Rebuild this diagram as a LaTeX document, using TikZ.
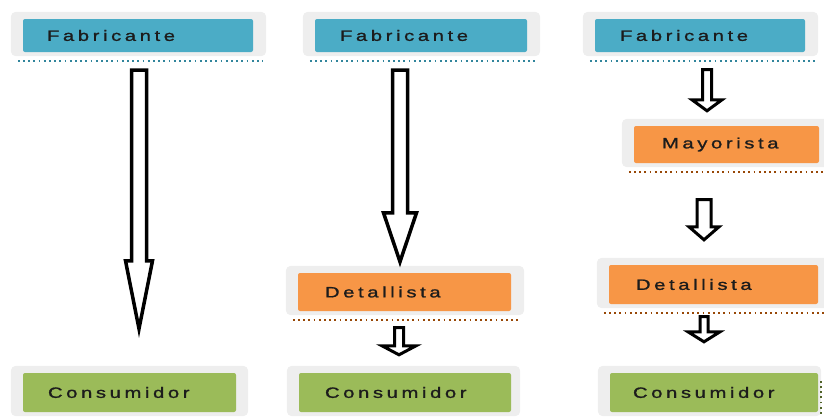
\documentclass[tikz,border=0pt]{standalone}
\usepackage{fontspec}
\newfontfamily\boxfont{Liberation Sans}[FakeStretch=1.35,LetterSpace=24,FakeBold=1.2]
\usetikzlibrary{calc,backgrounds}

\definecolor{fabfill}{HTML}{4BACC6}
\definecolor{fabline}{HTML}{31859C}
\definecolor{midfill}{HTML}{F79646}
\definecolor{midline}{HTML}{984807}
\definecolor{confill}{HTML}{9BBB59}
\definecolor{conline}{HTML}{4F6228}
\definecolor{framefill}{HTML}{EEEEEE}
\definecolor{labeltext}{HTML}{1C1C1C}

\tikzset{
  box/.style n args={3}{fill=#1, rounded corners=2pt, inner xsep=0pt, inner ysep=0pt,
    text width=#2, minimum height=#3, align=left,
    font=\boxfont\fontsize{15}{17}\selectfont, text=labeltext},
  frame/.style={fill=framefill, rounded corners=5pt},
  dotline/.style={draw=#1, line width=1.6pt, dash pattern=on 1.8pt off 3.4pt},
  blockarr/.style={draw=black, fill=white, line join=miter, miter limit=30},
}

% block arrow from node #2 to node #3 at abscissa #4:
% #5 gap below #2, #6 gap above #3, #7 half shaft, #8 half head, #9 head length
\newcommand\flecha[9][3pt]{%
  \draw[blockarr, line width=#1] let \p1=(#2.south), \p2=(#3.north) in
    (#4pt-#7pt,\y1-#5pt) -- (#4pt+#7pt,\y1-#5pt)
    -- (#4pt+#7pt,\y2+#6pt+#9pt) -- (#4pt+#8pt,\y2+#6pt+#9pt)
    -- (#4pt,\y2+#6pt)
    -- (#4pt-#8pt,\y2+#6pt+#9pt) -- (#4pt-#7pt,\y2+#6pt+#9pt) -- cycle;}

% light frame behind a box and dotted rule beneath it
\newcommand\marco[2]{%
  \fill[frame] ($(#1.north west)+(-12,-7)$) rectangle ($(#1.south east)+(13,4)$);
  \draw[dotline=#2] ($(#1.south west)+(-5,9)$) -- ($(#1.south east)+(10,9)$);}

\begin{document}
\begin{tikzpicture}[x=1pt,y=-1pt]
\useasboundingbox (0,0) rectangle (824,416);

% first column: manufacturer straight to consumer
\node[box={fabfill}{230pt}{33pt}] (fab1) at (138,35.5) {\hspace*{24pt}Fabricante};
\node[box={confill}{213pt}{39pt}] (con1) at (129.5,392.5) {\hspace*{25pt}Consumidor};

% second column: through the retailer
\node[box={fabfill}{212pt}{33pt}] (fab2) at (421,35.5) {\hspace*{25pt}Fabricante};
\node[box={midfill}{213pt}{38pt}] (det2) at (404.5,292) {\hspace*{27pt}Detallista};
\node[box={confill}{212pt}{39pt}] (con2) at (405,392.5) {\hspace*{26pt}Consumidor};

% third column: wholesaler and retailer
\node[box={fabfill}{210pt}{33pt}] (fab3) at (700,35.5) {\hspace*{25pt}Fabricante};
\node[box={midfill}{185pt}{37pt}] (may3) at (726.5,144.5) {\hspace*{28pt}Mayorista};
\node[box={midfill}{209pt}{39pt}] (det3) at (713.5,284.5) {\hspace*{27pt}Detallista};
\node[box={confill}{208pt}{39pt}] (con3) at (714,392.5) {\hspace*{23pt}Consumidor};

\begin{scope}[on background layer]
  \marco{fab1}{fabline}
  \marco{fab2}{fabline}
  \marco{fab3}{fabline}
  \marco{may3}{midline}
  \marco{det2}{midline}
  \marco{det3}{midline}
  \fill[frame] ($(con1.north west)+(-12,-7)$) rectangle ($(con1.south east)+(12,4)$);
  \fill[frame] ($(con2.north west)+(-12,-7)$) rectangle ($(con2.south east)+(9,4)$);
  \fill[frame] ($(con3.north west)+(-12,-7)$) rectangle ($(con3.south east)+(3,4)$);
  \draw[dotline=conline] ($(con3.north east)+(3,8)$) -- ($(con3.south east)+(3,4)$);
\end{scope}

% connectors
\flecha[3.5pt]{fab1}{con1}{139}{18}{44}{7.5}{13.5}{68}
\flecha[3.5pt]{fab2}{det2}{400}{18}{11}{7.5}{16.5}{49}
\flecha{det2}{con2}{399}{16.5}{18}{4.5}{17}{9}
\flecha{fab3}{may3}{707}{17.5}{15}{4.5}{15}{11}
\flecha{may3}{det3}{704}{36.5}{25}{7}{15}{13}
\flecha{det3}{con3}{704}{12.5}{31}{4}{16}{10}
\end{tikzpicture}
\end{document}
